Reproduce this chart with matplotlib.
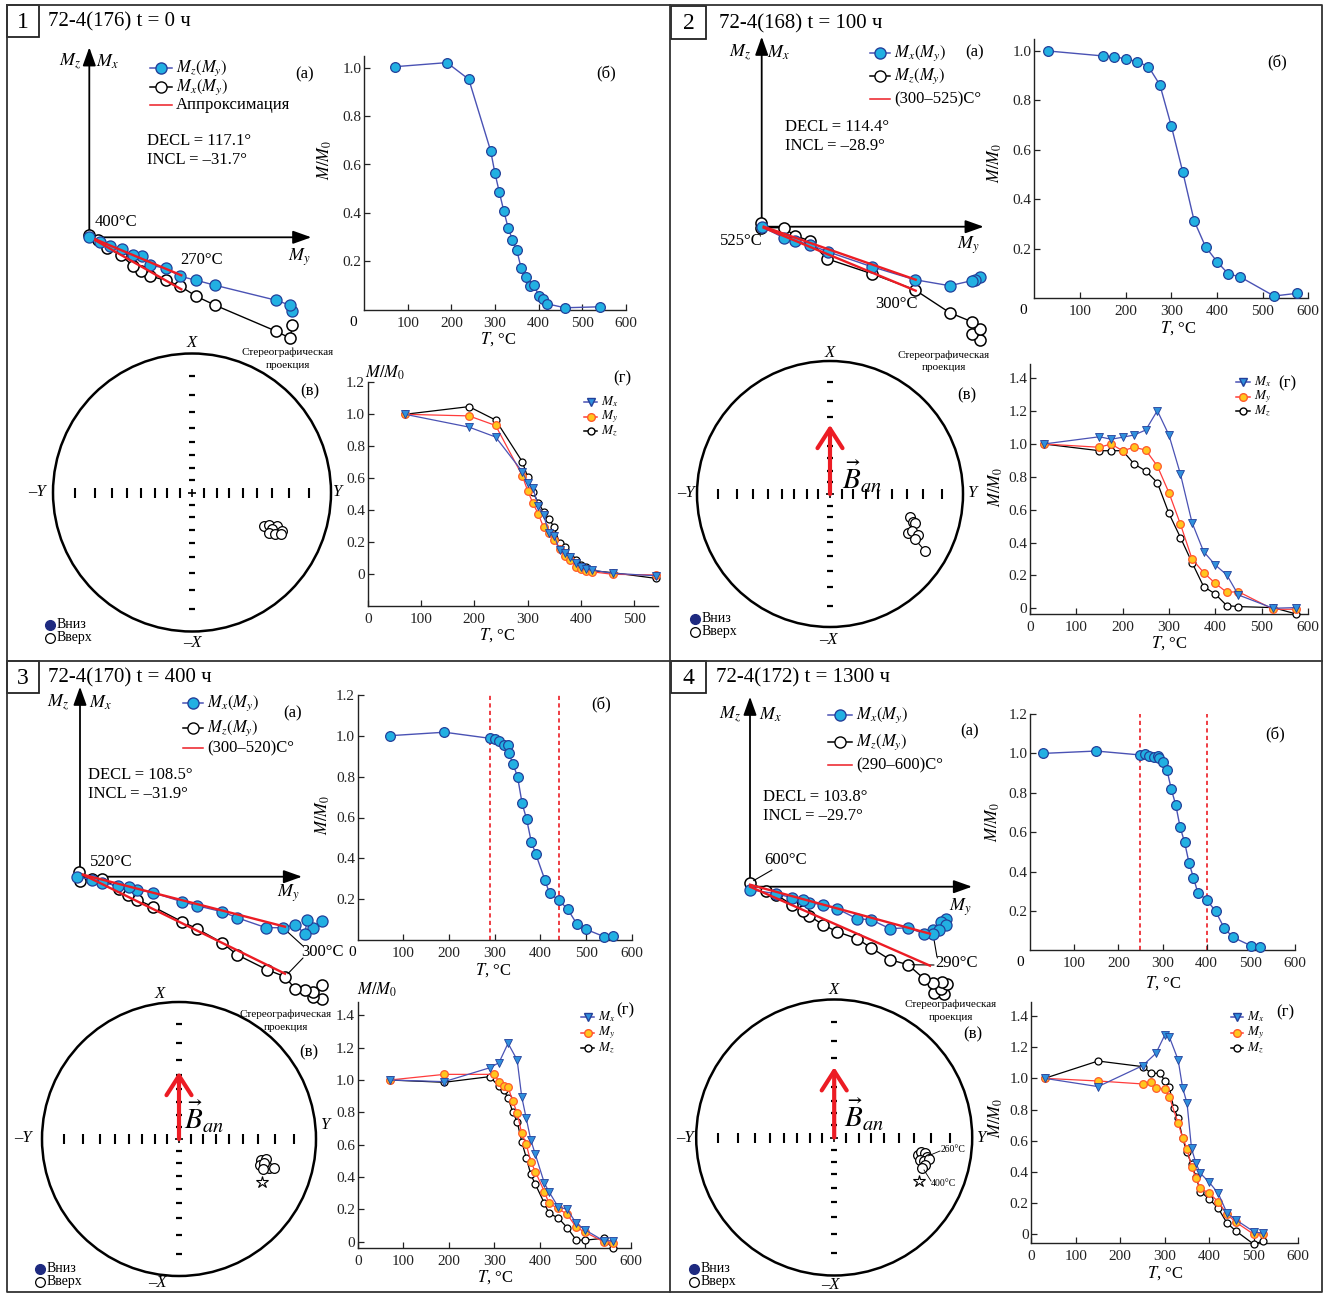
import numpy as np
import matplotlib
matplotlib.use('Agg')
import matplotlib.pyplot as plt
from matplotlib.patches import Circle, Rectangle

plt.rcParams['font.family'] = ['Liberation Serif', 'DejaVu Serif']
plt.rcParams['mathtext.fontset'] = 'stix'

# ---------------- data ----------------
titles = ['72-4(176) t = 0 ч', '72-4(168) t = 100 ч', '72-4(170) t = 400 ч', '72-4(172) t = 1300 ч']
decl = ['117.1', '114.4', '108.5', '103.8']
incl = ['31.7', '28.9', '31.9', '29.7']
fit_labels = ['Аппроксимация', '(300–525)C°', '(300–520)C°', '(290–600)C°']

# Zijderveld diagrams (arbitrary units), filled = blue series, open = black series
z1_my_f = [2.03, 2.01, 1.87, 1.26, 1.07, 0.91, 0.77, 0.61, 0.53, 0.44, 0.33, 0.21, 0.11, 0.0]
z1_mv_f = [-0.74, -0.68, -0.63, -0.48, -0.43, -0.39, -0.31, -0.28, -0.19, -0.18, -0.12, -0.09, -0.05, 0.0]
z1_my_o = [2.03, 2.01, 1.87, 1.26, 1.07, 0.91, 0.77, 0.61, 0.52, 0.44, 0.32, 0.18, 0.09, 0.0]
z1_mv_o = [-0.88, -1.01, -0.94, -0.68, -0.59, -0.49, -0.43, -0.39, -0.34, -0.29, -0.18, -0.11, -0.03, 0.02]
z1_fit_my, z1_fit_f, z1_fit_o = [0.06, 0.92], [-0.02, -0.38], [-0.03, -0.52]

z2_my_f = [2.18, 2.13, 2.10, 1.88, 1.53, 1.10, 0.66, 0.48, 0.33, 0.22, 0.0]
z2_mv_f = [-0.50, -0.53, -0.54, -0.59, -0.53, -0.40, -0.25, -0.18, -0.14, -0.11, 0.0]
z2_my_o = [2.18, 2.10, 2.18, 2.10, 1.88, 1.53, 1.10, 0.65, 0.48, 0.33, 0.22, -0.01, -0.01]
z2_mv_o = [-1.13, -1.07, -1.02, -0.95, -0.86, -0.63, -0.47, -0.32, -0.14, -0.09, -0.01, -0.01, 0.04]
z2_fit_my, z2_fit_f, z2_fit_o = [0.02, 1.54], [0.0, -0.53], [-0.01, -0.64]

z3_my_f = [2.42, 2.33, 2.27, 2.25, 2.15, 2.03, 1.86, 1.57, 1.42, 1.17, 1.02, 0.73, 0.57, 0.49, 0.38, 0.22, 0.12, -0.03]
z3_mv_f = [-0.44, -0.51, -0.43, -0.57, -0.48, -0.51, -0.51, -0.41, -0.35, -0.29, -0.25, -0.16, -0.13, -0.10, -0.09, -0.06, -0.03, 0.0]
z3_my_o = [2.42, 2.33, 2.42, 2.33, 2.25, 2.15, 2.05, 1.87, 1.57, 1.42, 1.17, 1.02, 0.73, 0.57, 0.48, 0.39, 0.22, 0.12, 0.0, -0.01]
z3_mv_o = [-1.22, -1.20, -1.08, -1.15, -1.13, -1.12, -1.00, -0.93, -0.78, -0.66, -0.52, -0.45, -0.30, -0.23, -0.18, -0.12, -0.02, -0.02, -0.04, 0.05]
z3_fit_my, z3_fit_f, z3_fit_o = [0.03, 2.05], [0.02, -0.50], [0.02, -0.97]

z4_my_f = [1.96, 1.91, 1.96, 1.83, 1.89, 1.83, 1.74, 1.58, 1.40, 1.21, 1.07, 0.87, 0.73, 0.59, 0.53, 0.42, 0.26, 0.0]
z4_mv_f = [-0.32, -0.35, -0.38, -0.43, -0.43, -0.47, -0.47, -0.41, -0.42, -0.33, -0.32, -0.22, -0.18, -0.16, -0.13, -0.11, -0.07, -0.03]
z4_my_o = [1.94, 1.84, 1.91, 1.97, 1.92, 1.83, 1.74, 1.58, 1.40, 1.21, 1.07, 0.87, 0.73, 0.59, 0.53, 0.42, 0.26, 0.16, 0.0]
z4_mv_o = [-1.07, -1.06, -1.02, -0.97, -0.95, -0.96, -0.92, -0.78, -0.73, -0.61, -0.52, -0.45, -0.38, -0.29, -0.24, -0.18, -0.08, -0.04, 0.04]
z4_fit_my, z4_fit_f, z4_fit_o = [0.0, 1.80], [0.02, -0.47], [0.0, -0.79]

# (б) thermal demagnetisation M/M0
t_b1 = [70, 190, 240, 290, 300, 310, 320, 330, 340, 350, 360, 370, 380, 390, 400, 410, 420, 460, 540]
m_b1 = [1.004, 1.021, 0.952, 0.657, 0.563, 0.485, 0.409, 0.339, 0.288, 0.245, 0.171, 0.136, 0.098, 0.102, 0.057, 0.043, 0.024, 0.008, 0.012]
t_b2 = [30, 150, 175, 200, 225, 250, 275, 300, 325, 350, 375, 400, 425, 450, 525, 575]
m_b2 = [1.0, 0.98, 0.977, 0.968, 0.957, 0.937, 0.863, 0.697, 0.512, 0.314, 0.209, 0.149, 0.099, 0.088, 0.010, 0.021]
t_b3 = [70, 190, 290, 300, 310, 320, 330, 331, 340, 350, 360, 370, 380, 390, 410, 420, 440, 460, 480, 500, 540, 560]
m_b3 = [1.0, 1.017, 0.987, 0.982, 0.973, 0.955, 0.955, 0.914, 0.862, 0.8, 0.669, 0.591, 0.482, 0.421, 0.294, 0.229, 0.197, 0.151, 0.079, 0.053, 0.017, 0.02]
t_b4 = [30, 150, 250, 260, 270, 280, 290, 291, 300, 310, 320, 330, 340, 350, 360, 370, 380, 400, 420, 440, 460, 500, 520]
m_b4 = [1.0, 1.012, 0.992, 0.997, 0.987, 0.983, 0.988, 0.978, 0.958, 0.916, 0.818, 0.738, 0.625, 0.549, 0.445, 0.369, 0.293, 0.256, 0.2, 0.112, 0.066, 0.024, 0.015]
vlines_b3 = [290, 440]
vlines_b4 = [250, 400]

# (г) components Mx, My, Mz
t_g1 = [70, 190, 240, 290, 300, 310, 320, 330, 340, 350, 360, 370, 380, 390, 400, 410, 420, 460, 540]
mx_g1 = [1.0, 0.92, 0.858, 0.642, 0.572, 0.537, 0.427, 0.371, 0.256, 0.240, 0.152, 0.131, 0.110, 0.073, 0.044, 0.031, 0.027, 0.006, -0.009]
my_g1 = [1.0, 0.99, 0.93, 0.617, 0.523, 0.444, 0.377, 0.294, 0.26, 0.214, 0.158, 0.115, 0.089, 0.048, 0.035, 0.023, 0.016, 0.0, -0.004]
mz_g1 = [1.0, 1.048, 0.964, 0.704, 0.61, 0.512, 0.448, 0.391, 0.346, 0.294, 0.194, 0.173, 0.106, 0.089, 0.058, 0.048, 0.023, 0.010, -0.025]

t_g2 = [30, 150, 175, 200, 225, 250, 275, 300, 325, 350, 375, 400, 425, 450, 525, 575]
mx_g2 = [1.0, 1.044, 1.029, 1.041, 1.055, 1.085, 1.203, 1.055, 0.816, 0.521, 0.345, 0.264, 0.203, 0.081, 0.0, 0.004]
my_g2 = [1.0, 0.98, 1.0, 0.959, 0.98, 0.963, 0.866, 0.704, 0.511, 0.30, 0.217, 0.152, 0.097, 0.101, -0.006, -0.006]
mz_g2 = [1.0, 0.959, 0.959, 0.959, 0.878, 0.836, 0.765, 0.578, 0.43, 0.278, 0.132, 0.087, 0.016, 0.010, 0.004, -0.035]

tx_g3 = [70, 190, 290, 310, 330, 350, 360, 370, 380, 390, 410, 420, 440, 460, 480, 500, 540, 560]
mx_g3 = [1.0, 0.99, 1.076, 1.107, 1.227, 1.124, 0.897, 0.763, 0.629, 0.54, 0.361, 0.309, 0.216, 0.2, 0.113, 0.072, 0.006, 0.006]
ty_g3 = [70, 190, 300, 310, 320, 330, 340, 350, 360, 370, 380, 390, 410, 420, 440, 460, 480, 500, 540, 560]
my_g3 = [1.0, 1.035, 1.035, 0.99, 0.963, 0.959, 0.87, 0.798, 0.67, 0.602, 0.495, 0.433, 0.309, 0.237, 0.206, 0.169, 0.089, 0.058, 0.0, -0.006]
tz_g3 = [70, 190, 290, 310, 320, 330, 340, 350, 360, 370, 380, 390, 410, 420, 440, 460, 480, 500, 540, 560]
mz_g3 = [1.0, 0.986, 1.021, 0.96, 0.938, 0.891, 0.804, 0.742, 0.619, 0.52, 0.416, 0.355, 0.237, 0.175, 0.148, 0.087, 0.01, 0.01, 0.021, -0.041]

tx_g4 = [30, 150, 250, 280, 300, 310, 330, 340, 350, 360, 370, 380, 400, 420, 440, 460, 500, 520]
mx_g4 = [1.0, 0.947, 1.081, 1.16, 1.278, 1.267, 1.118, 0.94, 0.84, 0.551, 0.455, 0.391, 0.333, 0.263, 0.135, 0.092, 0.017, 0.006]
ty_g4 = [30, 150, 250, 270, 280, 300, 310, 330, 340, 350, 360, 370, 380, 400, 420, 440, 460, 500, 520]
my_g4 = [1.0, 0.983, 0.964, 0.974, 0.936, 0.932, 0.882, 0.712, 0.62, 0.547, 0.434, 0.363, 0.295, 0.263, 0.209, 0.128, 0.077, 0.0, 0.0]
tz_g4 = [30, 150, 250, 270, 290, 300, 310, 320, 330, 340, 350, 360, 370, 380, 400, 420, 440, 460, 500, 520]
mz_g4 = [1.0, 1.111, 1.075, 1.032, 1.032, 0.983, 0.947, 0.808, 0.748, 0.615, 0.526, 0.449, 0.37, 0.274, 0.226, 0.167, 0.071, 0.021, -0.064, -0.043]

# (в) stereographic projection, points as (east, north) on the unit net
s1_e = [0.517, 0.557, 0.614, 0.577, 0.649, 0.554, 0.599, 0.638]
s1_n = [-0.243, -0.233, -0.243, -0.261, -0.278, -0.289, -0.301, -0.301]
s2_e = [0.602, 0.627, 0.639, 0.586, 0.620, 0.665, 0.639, 0.712]
s2_n = [-0.171, -0.208, -0.220, -0.295, -0.275, -0.308, -0.340, -0.426]
s3_e = [0.599, 0.635, 0.591, 0.623, 0.660, 0.691, 0.623, 0.613]
s3_n = [-0.153, -0.146, -0.190, -0.202, -0.209, -0.209, -0.177, -0.219]
s3_star = [0.606, -0.312]
s4_e = [0.607, 0.629, 0.658, 0.672, 0.622, 0.651, 0.687, 0.658, 0.636]
s4_n = [-0.127, -0.105, -0.112, -0.141, -0.163, -0.171, -0.156, -0.199, -0.221]
s4_star = [0.617, -0.315]
b_an_len = [None, 0.52, 0.49, 0.51]
net_incl = [10, 20, 30, 40, 50, 60, 70, 80]

# ---------------- style ----------------
CYAN = '#22b0e2'
EDGE_BLUE = '#23409a'
LINE_BLUE = '#4a52b4'
TRI_BLUE = '#2f8fdc'
YELLOW = '#ffc61e'
ORANGE = '#ff5a2a'
RED_LINE = '#ff3c3c'
RED = '#ec1c24'

W, H = 1330, 1293
fig = plt.figure(figsize=(W / 100, H / 100), dpi=100)
fig.patch.set_facecolor('white')

ov = fig.add_axes([0, 0, 1, 1], zorder=10)
ov.set_xlim(0, W)
ov.set_ylim(H, 0)
ov.axis('off')


def px_axes(x0, y0, x1, y1):
    ax = fig.add_axes([x0 / W, 1 - y1 / H, (x1 - x0) / W, (y1 - y0) / H])
    ax.patch.set_visible(False)
    return ax


def txt(x, y, s, fs=12, ha='left', va='center', **kw):
    ov.text(x, y, s, fontsize=fs, ha=ha, va=va, **kw)


def key(x0, x1, y, s, fs, color, marker=None, mfc=None, mec=None, ms=7):
    ov.plot([x0, x1], [y, y], color=color, lw=1.1)
    if marker:
        ov.plot([(x0 + x1) / 2], [y], marker=marker, ms=ms, mfc=mfc, mec=mec, mew=1, color=color)
    txt(x1 + 4, y, s, fs)


def tick_fmt(v, pos):
    return '0' if abs(v) < 1e-9 else f'{v:.1f}'


def style(ax, ypad=2):
    for s in ('top', 'right'):
        ax.spines[s].set_visible(False)
    for s in ('left', 'bottom'):
        ax.spines[s].set_linewidth(1.0)
        ax.spines[s].set_color('#222222')
    ax.tick_params(direction='in', length=4, width=0.9, labelsize=11, colors='#222222')
    ax.tick_params(axis='x', pad=5)
    ax.tick_params(axis='y', pad=ypad)
    ax.yaxis.set_major_formatter(tick_fmt)


def zijderveld(origin, rect, my_f, mv_f, my_o, mv_o, fit_my, fit_f, fit_o):
    ox, oy = origin
    x0, y0, x1, y1 = rect
    ax = px_axes(x0, y0, x1, y1)
    ax.set_xlim((x0 - ox) / 100, (x1 - ox) / 100)
    ax.set_ylim((oy - y1) / 100, (oy - y0) / 100)
    ax.axis('off')
    arrow = dict(arrowstyle='-|>,head_length=0.7,head_width=0.25', color='k', lw=1.3,
                 mutation_scale=16, shrinkA=0, shrinkB=0)
    ax.annotate('', xy=(0, 1.9), xytext=(0, 0), arrowprops=arrow)
    ax.annotate('', xy=(2.22, 0), xytext=(0, 0), arrowprops=arrow)
    ax.plot(my_o, mv_o, '-o', color='k', lw=1, ms=8, mfc='white', mec='k', mew=1.1, clip_on=False, zorder=3)
    ax.plot(my_f, mv_f, '-o', color=LINE_BLUE, lw=1, ms=8, mfc=CYAN, mec=EDGE_BLUE, mew=0.9,
            clip_on=False, zorder=4)
    ax.plot(fit_my, fit_f, color=RED, lw=1.7, zorder=5)
    ax.plot(fit_my, fit_o, color=RED, lw=1.7, zorder=5)
    return ax


def leader(ax, xy, px, py):
    ax.annotate('', xy=xy, xytext=(px, H - py), textcoords='figure pixels',
                arrowprops=dict(arrowstyle='-', lw=0.8, color='k', shrinkA=0, shrinkB=3))


def demag(rect, t, m, ylim, yticks, vlines=()):
    ax = px_axes(*rect)
    for v in vlines:
        ax.axvline(v, color=RED, lw=1.2, ls=(0, (2.5, 2)), zorder=1)
    ax.plot(t, m, '-o', color=LINE_BLUE, lw=1, ms=7, mfc=CYAN, mec=EDGE_BLUE, mew=0.9,
            clip_on=False, zorder=3)
    ax.set_xlim(0, 600)
    ax.set_ylim(*ylim)
    ax.set_xticks([100, 200, 300, 400, 500, 600])
    ax.set_yticks(yticks)
    style(ax)
    return ax


def components(rect, xmax, ylim, yticks, xticks, tx, mx, ty, my, tz, mz):
    ax = px_axes(*rect)
    ax.plot(tz, mz, '-o', color='k', lw=0.9, ms=5, mfc='white', mec='k', mew=0.9, clip_on=False, zorder=3)
    ax.plot(ty, my, '-o', color=RED_LINE, lw=0.9, ms=5.5, mfc=YELLOW, mec=ORANGE, mew=0.9,
            clip_on=False, zorder=4)
    ax.plot(tx, mx, '-v', color=LINE_BLUE, lw=0.9, ms=6, mfc=TRI_BLUE, mec=EDGE_BLUE, mew=0.6,
            clip_on=False, zorder=5)
    ax.set_xlim(0, xmax)
    ax.set_ylim(*ylim)
    ax.set_xticks(xticks)
    ax.set_yticks(yticks)
    style(ax)
    return ax


def stereonet(center, R, east, north, arrow_len=None, star=None, joined=False):
    cx, cy = center
    ax = px_axes(cx - 1.3 * R, cy - 1.3 * R, cx + 1.3 * R, cy + 1.3 * R)
    ax.set_xlim(-1.3, 1.3)
    ax.set_ylim(-1.3, 1.3)
    ax.axis('off')
    ax.add_patch(Circle((0, 0), 1, fill=False, lw=1.8, ec='k'))
    r = np.tan(np.radians(90 - np.array(net_incl)) / 2)
    rr = np.concatenate([-r, r])
    ax.plot(rr, np.zeros_like(rr), ls='none', marker='|', ms=6.5, mew=1.5, color='k')
    ax.plot(np.zeros_like(rr), rr, ls='none', marker='_', ms=5, mew=1.6, color='k')
    ax.plot([0], [0], marker='+', ms=6, mew=1.2, color='k')
    if arrow_len:
        ax.annotate('', xy=(0, arrow_len), xytext=(0, 0),
                    arrowprops=dict(arrowstyle='->,head_length=0.7,head_width=0.45', color=RED, lw=3,
                                    mutation_scale=20, shrinkA=0, shrinkB=0))
    ax.plot(east, north, '-' if joined else 'none', color='k', lw=0.8, marker='o', ms=7,
            mfc='white', mec='k', mew=0.9)
    if star:
        ax.plot([star[0]], [star[1]], marker='*', ms=9, mfc='white', mec='k', mew=0.8, ls='none')
    return ax


# ---------------- frames ----------------
ov.plot([7, 1322, 1322, 7, 7], [5, 5, 1292, 1292, 5], color='#333333', lw=1.3)
ov.plot([670, 670], [5, 1292], color='#333333', lw=1.3)
ov.plot([7, 1322], [661, 661], color='#333333', lw=1.3)
boxes = [(7, 5, 39, 37), (671, 6, 706, 39), (7, 661, 39, 693), (671, 661, 706, 693)]
title_x = [48, 719, 48, 716]
for i, (bx0, by0, bx1, by1) in enumerate(boxes):
    ov.add_patch(Rectangle((bx0, by0), bx1 - bx0, by1 - by0, fill=False, lw=1.3, ec='#222222'))
    txt((bx0 + bx1) / 2, (by0 + by1) / 2 + 1, str(i + 1), 17, ha='center')
    txt(title_x[i], (by0 + by1) / 2 + 1, titles[i], 15)

# ---------------- Zijderveld (а) ----------------
zax = [
    zijderveld((89.3, 237.3), (40, 40, 340, 345), z1_my_f, z1_mv_f, z1_my_o, z1_mv_o, z1_fit_my, z1_fit_f, z1_fit_o),
    zijderveld((761.7, 226.7), (710, 30, 1000, 350), z2_my_f, z2_mv_f, z2_my_o, z2_mv_o, z2_fit_my, z2_fit_f, z2_fit_o),
    zijderveld((80, 876.7), (30, 680, 340, 1010), z3_my_f, z3_mv_f, z3_my_o, z3_mv_o, z3_fit_my, z3_fit_f, z3_fit_o),
    zijderveld((750, 886.7), (700, 690, 1000, 1010), z4_my_f, z4_mv_f, z4_my_o, z4_mv_o, z4_fit_my, z4_fit_f, z4_fit_o),
]
ax_lab = [((70, 62), (107, 62), (299, 257)), ((740, 53), (778, 53), (968, 245)),
          ((58, 703), (100, 703), (288, 893)), ((730, 715), (770, 715), (960, 907))]
for (pz, px_, py_) in ax_lab:
    txt(pz[0], pz[1], r'$M_z$', 13, ha='center')
    txt(px_[0], px_[1], r'$M_x$', 13, ha='center')
    txt(py_[0], py_[1], r'$M_y$', 13, ha='center')

key_pos = [(150, 172, (68, 87, 105)), (870, 890, (53, 76, 99)),
           (183, 203, (703, 728, 748)), (828, 852, (715, 742, 765))]
names = [(r'$M_z(M_y)$', r'$M_x(M_y)$')] + [(r'$M_x(M_y)$', r'$M_z(M_y)$')] * 3
for i, (k0, k1, ys) in enumerate(key_pos):
    key(k0, k1, ys[0], names[i][0], 12, LINE_BLUE, 'o', CYAN, EDGE_BLUE, 8)
    key(k0, k1, ys[1], names[i][1], 12, 'k', 'o', 'white', 'k', 8)
    key(k0, k1, ys[2], fit_labels[i], 12, RED)

a_pos = [(305, 74), (975, 52), (293, 713), (970, 731)]
dec_pos = [(147, 141), (785, 127), (88, 775), (763, 797)]
for i in range(4):
    txt(a_pos[i][0], a_pos[i][1], '(а)', 12, ha='center')
    txt(dec_pos[i][0], dec_pos[i][1], f'DECL = {decl[i]}°', 12)
    txt(dec_pos[i][0], dec_pos[i][1] + 19.5, f'INCL = –{incl[i]}°', 12)

txt(95, 222, '400°C', 12)
txt(180, 260, '270°C', 12)
txt(720, 241, '525°C', 12)
txt(875, 304, '300°C', 12)
txt(90, 862, '520°C', 12)
txt(301, 952, '300°C', 12)
leader(zax[2], (z3_my_f[5], z3_mv_f[5]), 303, 946)
leader(zax[2], (z3_my_o[6], z3_mv_o[6]), 303, 958)
txt(764, 860, '600°C', 12)
leader(zax[3], (z4_my_o[-1], z4_mv_o[-1]), 772, 870)
txt(935, 963, '290°C', 12)
leader(zax[3], (z4_my_f[5], z4_mv_f[5]), 937, 957)
leader(zax[3], (z4_my_o[7], z4_mv_o[7]), 934, 965)

# ---------------- (б) ----------------
demag((364, 55.6, 626, 309.7), t_b1, m_b1, (0, 1.05), [0.2, 0.4, 0.6, 0.8, 1.0])
demag((1034.3, 38.6, 1308.3, 298.5), t_b2, m_b2, (0, 1.05), [0.2, 0.4, 0.6, 0.8, 1.0])
demag((357.7, 694.8, 631.7, 940.2), t_b3, m_b3, (0, 1.2), [0.2, 0.4, 0.6, 0.8, 1.0, 1.2], vlines_b3)
demag((1030, 714, 1295, 950.4), t_b4, m_b4, (0, 1.2), [0.2, 0.4, 0.6, 0.8, 1.0, 1.2], vlines_b4)
b_zero = [(353, 322), (1023, 310), (352, 952), (1020, 963)]
b_ylab = [(325, 160), (995, 163), (323, 815), (993, 822)]
b_xlab = [(498, 339), (1178, 328), (493, 970), (1163, 983)]
b_tag = [(606, 74), (1277, 63), (601, 705), (1275, 735)]
for i in range(4):
    txt(b_zero[i][0], b_zero[i][1], '0', 11, ha='center')
    txt(b_ylab[i][0], b_ylab[i][1], r'$M/M_0$', 12, ha='center', rotation=90)
    txt(b_xlab[i][0], b_xlab[i][1], r'$T$, °C', 12, ha='center')
    txt(b_tag[i][0], b_tag[i][1], '(б)', 12, ha='center')

# ---------------- (г) ----------------
xt6 = [0, 100, 200, 300, 400, 500, 600]
components((367.7, 382.3, 658.2, 606.3), 545, (-0.2, 1.2), [0, 0.2, 0.4, 0.6, 0.8, 1.0, 1.2],
           [0, 100, 200, 300, 400, 500], t_g1, mx_g1, t_g1, my_g1, t_g1, mz_g1)
components((1030, 363.5, 1307.8, 614), 600, (-0.035, 1.49), [0, 0.2, 0.4, 0.6, 0.8, 1.0, 1.2, 1.4],
           xt6, t_g2, mx_g2, t_g2, my_g2, t_g2, mz_g2)
components((357.9, 1002.4, 630.9, 1248.2), 600, (-0.04, 1.48), [0, 0.2, 0.4, 0.6, 0.8, 1.0, 1.2, 1.4],
           xt6, tx_g3, mx_g3, ty_g3, my_g3, tz_g3, mz_g3)
components((1031.3, 1001.9, 1298.3, 1243.2), 600, (-0.057, 1.49), [0, 0.2, 0.4, 0.6, 0.8, 1.0, 1.2, 1.4],
           xt6, tx_g4, mx_g4, ty_g4, my_g4, tz_g4, mz_g4)
g_key = [(584, 597, (402, 416.5, 431)), (1236, 1250, (382, 396.5, 411)),
         (581, 594, (1017, 1032.5, 1048)), (1231, 1243, (1017, 1032.5, 1048))]
for k0, k1, ys in g_key:
    key(k0, k1, ys[0], r'$M_x$', 9.5, LINE_BLUE, 'v', TRI_BLUE, EDGE_BLUE, 6)
    key(k0, k1, ys[1], r'$M_y$', 9.5, RED_LINE, 'o', YELLOW, ORANGE, 5.5)
    key(k0, k1, ys[2], r'$M_z$', 9.5, 'k', 'o', 'white', 'k', 5)
g_tag = [(622, 378), (1287, 383), (625, 1010), (1285, 1012)]
g_xlab = [(497, 635), (1169, 643), (495, 1277), (1165, 1273)]
for i in range(4):
    txt(g_tag[i][0], g_tag[i][1], '(г)', 12, ha='center')
    txt(g_xlab[i][0], g_xlab[i][1], r'$T$, °C', 12, ha='center')
txt(385, 373, r'$M/M_0$', 12, ha='center')
txt(996, 487, r'$M/M_0$', 12, ha='center', rotation=90)
txt(377, 990, r'$M/M_0$', 12, ha='center')
txt(996, 1118, r'$M/M_0$', 12, ha='center', rotation=90)

# ---------------- (в) stereographic projections ----------------
centers = [(192, 492.5), (830, 494), (179, 1139), (834.2, 1137.5)]
radii = [139, 133, 137, 138]
stereonet(centers[0], radii[0], s1_e, s1_n)
stereonet(centers[1], radii[1], s2_e, s2_n, b_an_len[1], joined=True)
stereonet(centers[2], radii[2], s3_e, s3_n, b_an_len[2], s3_star, joined=True)
stereonet(centers[3], radii[3], s4_e, s4_n, b_an_len[3], s4_star, joined=True)

net_labels = [
    ((192, 343), (192, 643), (37, 492), (337, 492)),
    ((830, 353), (828, 640), (686, 493), (972, 493)),
    ((160, 994), (157, 1283), (23, 1138), (325, 1125)),
    ((834, 990), (830, 1285), (685, 1138), (981, 1138)),
]
for (pX, pmX, pmY, pY) in net_labels:
    txt(pX[0], pX[1], 'X', 12, ha='center', style='italic')
    txt(pmX[0], pmX[1], '–X', 12, ha='center', style='italic')
    txt(pmY[0], pmY[1], '–Y', 12, ha='center', style='italic')
    txt(pY[0], pY[1], 'Y', 12, ha='center', style='italic')

v_tag = [(310, 391), (967, 395), (309, 1052), (973, 1034)]
proj_pos = [(288, 352), (944, 355), (286, 1014), (951, 1004)]
down_pos = [(50, 625), (695, 619), (40, 1269), (694, 1269)]
for i in range(4):
    txt(v_tag[i][0], v_tag[i][1], '(в)', 12, ha='center')
    txt(proj_pos[i][0], proj_pos[i][1], 'Стереографическая', 8, ha='center')
    txt(proj_pos[i][0], proj_pos[i][1] + 13, 'проекция', 8, ha='center')
    dx, dy = down_pos[i]
    ov.plot([dx], [dy], marker='o', ms=7, mfc='#1e2a80', mec='#1e2a80')
    ov.plot([dx], [dy + 12.5], marker='o', ms=7, mfc='white', mec='k', mew=0.9)
    txt(dx + 7, dy, 'Вниз', 10)
    txt(dx + 7, dy + 12.5, 'Вверх', 10)

for bx, by in [(862, 477), (204, 1117), (864, 1115)]:
    txt(bx, by, r'$\vec{B}_{an}$', 21, ha='center')

txt(941, 1150, '260°C', 7)
txt(931, 1184, '400°C', 7)
ov.plot([928, 940], [1156, 1151], color='k', lw=0.6)
ov.plot([924, 931], [1170, 1181], color='k', lw=0.6)

fig.savefig('out.png', dpi=100)
